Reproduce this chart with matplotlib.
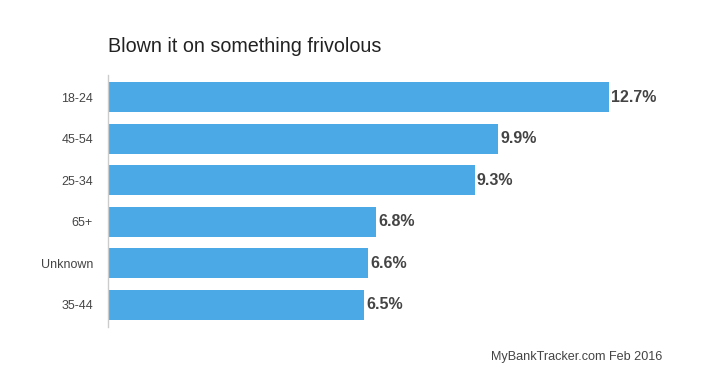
import matplotlib
matplotlib.use("Agg")
import matplotlib.pyplot as plt

plt.rcParams['font.family'] = ['Liberation Sans', 'DejaVu Sans']

categories = ["18-24", "45-54", "25-34", "65+", "Unknown", "35-44"]
values = [12.7, 9.9, 9.3, 6.8, 6.6, 6.5]
title = "Blown it on something frivolous"
source = "MyBankTracker.com Feb 2016"

fig = plt.figure(figsize=(7.05, 3.85), dpi=100)
ax = fig.add_axes([108/705, 1 - 327/385, 552/705, 252/385])

pos = list(range(len(categories)))
ax.barh(pos, values, height=0.72, color="#4BA9E6")
for p, v in zip(pos, values):
    ax.text(v + 0.05, p, f"{v}%", va="center", ha="left",
            fontsize=11.5, color="#444444", fontweight="bold")

ax.set_xlim(0, 14)
ax.set_ylim(5.53, -0.53)
ax.set_yticks(pos)
ax.set_yticklabels(categories, fontsize=9, color="#444444")
ax.tick_params(axis="y", length=0, pad=10.8)
ax.set_xticks([])
for s in ["top", "right", "bottom"]:
    ax.spines[s].set_visible(False)
ax.spines["left"].set_color("#cccccc")
ax.spines["left"].set_linewidth(1)

fig.text(108/705, 1 - 47/385, title, fontsize=14.2, color="#222222",
         ha="left", va="center")
fig.text(662/705, 1 - 357/385, source, fontsize=9.1, color="#444444",
         ha="right", va="center")

fig.savefig("out.png", dpi=100)
